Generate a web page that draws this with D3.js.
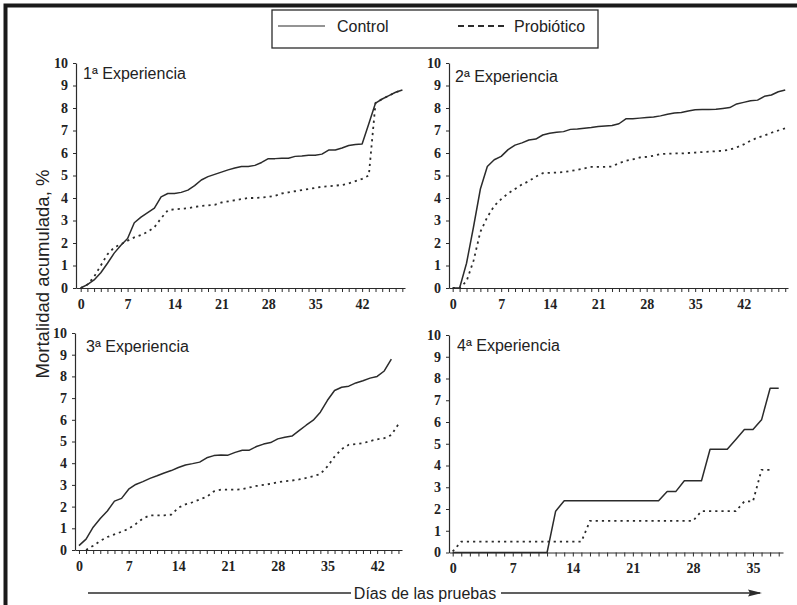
<!DOCTYPE html>
<html>
<head>
<meta charset="utf-8">
<script src="https://cdn.jsdelivr.net/npm/d3@7"></script>
<style>
  body { margin: 0; background: #fff; }
  svg { display: block; }
  .tick text { font-family: "Liberation Serif", "Times New Roman", serif; font-weight: bold; font-size: 14px; fill: #222; }
</style>
</head>
<body>
<svg id="chart" width="797" height="605"></svg>
<script>
// mortalidad acumulada (%) por dia, un valor por dia desde el dia de inicio
var control1 = [0, 0.15, 0.36, 0.68, 1.1, 1.55, 1.9, 2.2, 2.9, 3.15, 3.35, 3.55, 4.05, 4.2, 4.2, 4.25, 4.35, 4.55, 4.8, 4.95, 5.05, 5.15, 5.25, 5.33, 5.4, 5.4, 5.45, 5.58, 5.75, 5.75, 5.77, 5.77, 5.85, 5.87, 5.9, 5.9, 5.95, 6.13, 6.13, 6.22, 6.33, 6.38, 6.4, 7.3, 8.22, 8.4, 8.55, 8.7, 8.8];
var probiotico1 = [0, 0.15, 0.5, 1.0, 1.5, 1.8, 1.95, 2.1, 2.25, 2.35, 2.5, 2.7, 3.1, 3.45, 3.5, 3.52, 3.55, 3.6, 3.65, 3.67, 3.7, 3.8, 3.85, 3.9, 3.95, 4.0, 4.0, 4.02, 4.05, 4.1, 4.2, 4.25, 4.3, 4.35, 4.4, 4.45, 4.5, 4.52, 4.55, 4.58, 4.65, 4.75, 4.85, 5.0, 8.22, 8.4, 8.55, 8.7, 8.8];

var control2 = [0, 0, 1.1, 2.7, 4.4, 5.4, 5.7, 5.85, 6.15, 6.35, 6.45, 6.58, 6.62, 6.8, 6.88, 6.92, 6.95, 7.05, 7.07, 7.1, 7.13, 7.18, 7.2, 7.22, 7.3, 7.52, 7.52, 7.55, 7.58, 7.6, 7.65, 7.72, 7.78, 7.8, 7.87, 7.92, 7.93, 7.93, 7.94, 7.98, 8.02, 8.18, 8.25, 8.32, 8.35, 8.52, 8.58, 8.72, 8.8];
var probiotico2 = [0, 0, 0.3, 1.2, 2.5, 3.15, 3.65, 3.95, 4.2, 4.4, 4.6, 4.75, 4.95, 5.1, 5.12, 5.13, 5.15, 5.2, 5.25, 5.32, 5.38, 5.38, 5.38, 5.4, 5.55, 5.65, 5.72, 5.8, 5.83, 5.88, 5.95, 5.97, 5.98, 5.98, 6.0, 6.02, 6.04, 6.06, 6.08, 6.1, 6.15, 6.25, 6.38, 6.55, 6.68, 6.78, 6.9, 7.0, 7.1];

var control3 = [0.2, 0.5, 1.05, 1.45, 1.8, 2.25, 2.38, 2.8, 3.02, 3.15, 3.3, 3.42, 3.55, 3.66, 3.8, 3.92, 3.98, 4.05, 4.25, 4.35, 4.38, 4.37, 4.5, 4.6, 4.6, 4.77, 4.88, 4.95, 5.12, 5.2, 5.25, 5.5, 5.75, 5.98, 6.35, 6.9, 7.35, 7.5, 7.55, 7.7, 7.8, 7.92, 8.0, 8.25, 8.8];
var probiotico3 = [0, 0.2, 0.42, 0.6, 0.72, 0.84, 0.98, 1.2, 1.45, 1.6, 1.6, 1.6, 1.63, 1.95, 2.1, 2.2, 2.33, 2.45, 2.7, 2.78, 2.78, 2.78, 2.8, 2.88, 2.95, 3.0, 3.05, 3.12, 3.17, 3.2, 3.25, 3.32, 3.4, 3.5, 3.85, 4.3, 4.65, 4.85, 4.88, 4.92, 5.02, 5.1, 5.15, 5.3, 5.8];

var control4 = [0, 0, 0, 0, 0, 0, 0, 0, 0, 0, 0, 0, 1.9, 2.38, 2.38, 2.38, 2.38, 2.38, 2.38, 2.38, 2.38, 2.38, 2.38, 2.38, 2.38, 2.8, 2.8, 3.3, 3.3, 3.3, 4.75, 4.75, 4.75, 5.2, 5.65, 5.65, 6.1, 7.55, 7.55];
var probiotico4 = [0.05, 0.5, 0.5, 0.5, 0.5, 0.5, 0.5, 0.5, 0.5, 0.5, 0.5, 0.5, 0.5, 0.5, 0.5, 0.5, 1.45, 1.45, 1.45, 1.45, 1.45, 1.45, 1.45, 1.45, 1.45, 1.45, 1.45, 1.45, 1.45, 1.9, 1.9, 1.9, 1.9, 1.9, 2.35, 2.35, 3.8, 3.8];

var titles = ["1ª Experiencia", "2ª Experiencia", "3ª Experiencia", "4ª Experiencia"];
var yTicks = [0, 1, 2, 3, 4, 5, 6, 7, 8, 9, 10];
var xLabelTicks = [0, 7, 14, 21, 28, 35, 42];
var seriesNames = ["Control", "Probiótico"];

var panels = [
  { title: titles[0], ctrl: control1, prob: probiotico1, ctrlStart: 0, probStart: 0,
    dom: [-0.7, 48.4], left: 76, right: 405, top: 63, bottom: 288, tx: 83, ty: 79 },
  { title: titles[1], ctrl: control2, prob: probiotico2, ctrlStart: 0, probStart: 0,
    dom: [-0.53, 48.4], left: 449, right: 788, top: 63, bottom: 288, tx: 455, ty: 82 },
  { title: titles[2], ctrl: control3, prob: probiotico3, ctrlStart: 0, probStart: 1,
    dom: [-0.56, 45.5], left: 75, right: 402, top: 333, bottom: 550, tx: 86, ty: 352 },
  { title: titles[3], ctrl: control4, prob: probiotico4, ctrlStart: 0, probStart: 0,
    dom: [-0.43, 38.5], left: 449, right: 783, top: 335, bottom: 552.5, tx: 457, ty: 351 }
];

var ink = "#2b2b2b";
var svg = d3.select("#chart");

// marco exterior
svg.append("path")
  .attr("d", "M5.5,605 L5.5,5.5 L797,5.5")
  .attr("fill", "none")
  .attr("stroke", "#1a1a1a")
  .attr("stroke-width", 4);

panels.forEach(function(p) {
  var x = d3.scaleLinear().domain(p.dom).range([p.left, p.right]);
  var y = d3.scaleLinear().domain([0, 10]).range([p.bottom, p.top]);

  var g = svg.append("g");

  var xAxis = d3.axisBottom(x)
    .tickValues(d3.range(0, Math.floor(p.dom[1]) + 1))
    .tickSize(4)
    .tickSizeOuter(0)
    .tickPadding(7)
    .tickFormat(function(d) { return xLabelTicks.indexOf(d) >= 0 ? d : ""; });

  var yAxis = d3.axisLeft(y)
    .tickValues(yTicks)
    .tickSize(3)
    .tickSizeOuter(0)
    .tickPadding(5);

  var gx = g.append("g").attr("transform", "translate(0," + p.bottom + ")").call(xAxis);
  var gy = g.append("g").attr("transform", "translate(" + p.left + ",0)").call(yAxis);
  [gx, gy].forEach(function(a) {
    a.select(".domain").attr("stroke", ink).attr("stroke-width", 1.2);
    a.selectAll(".tick line").attr("stroke", ink).attr("stroke-width", 1);
    a.selectAll("text").attr("font-family", null).attr("font-size", null);
  });

  var line = d3.line()
    .x(function(d) { return x(d[0]); })
    .y(function(d) { return y(d[1]); });

  var ctrlPts = p.ctrl.map(function(v, i) { return [p.ctrlStart + i, v]; });
  var probPts = p.prob.map(function(v, i) { return [p.probStart + i, v]; });

  g.append("path")
    .attr("d", line(probPts))
    .attr("fill", "none")
    .attr("stroke", ink)
    .attr("stroke-width", 1.8)
    .attr("stroke-dasharray", "2.2,4");

  g.append("path")
    .attr("d", line(ctrlPts))
    .attr("fill", "none")
    .attr("stroke", ink)
    .attr("stroke-width", 1.5)
    .attr("stroke-linejoin", "round");

  g.append("text")
    .attr("x", p.tx)
    .attr("y", p.ty)
    .attr("font-family", "Liberation Sans, Arial, sans-serif")
    .attr("font-size", 16)
    .attr("fill", "#222")
    .text(p.title);
});

// leyenda
var legend = svg.append("g");
legend.append("rect")
  .attr("x", 272).attr("y", 10).attr("width", 326).attr("height", 38)
  .attr("fill", "#fff").attr("stroke", ink).attr("stroke-width", 1.3);
legend.append("line")
  .attr("x1", 278).attr("x2", 325).attr("y1", 26).attr("y2", 26)
  .attr("stroke", ink).attr("stroke-width", 1.2);
legend.append("line")
  .attr("x1", 458).attr("x2", 507).attr("y1", 26).attr("y2", 26)
  .attr("stroke", ink).attr("stroke-width", 2)
  .attr("stroke-dasharray", "6,4");
legend.selectAll("text.lg")
  .data(seriesNames)
  .enter()
  .append("text")
  .attr("class", "lg")
  .attr("x", function(d, i) { return i === 0 ? 337 : 514; })
  .attr("y", 32)
  .attr("font-family", "Liberation Sans, Arial, sans-serif")
  .attr("font-size", 16)
  .attr("fill", "#222")
  .text(function(d) { return d; });

// titulos de ejes
svg.append("text")
  .attr("transform", "translate(49,274) rotate(-90)")
  .attr("text-anchor", "middle")
  .attr("font-family", "Liberation Sans, Arial, sans-serif")
  .attr("font-size", 18.5)
  .attr("fill", "#222")
  .text("Mortalidad acumulada, %");

svg.append("text")
  .attr("x", 425)
  .attr("y", 599)
  .attr("text-anchor", "middle")
  .attr("font-family", "Liberation Sans, Arial, sans-serif")
  .attr("font-size", 16)
  .attr("fill", "#222")
  .text("Días de las pruebas");

svg.append("line")
  .attr("x1", 88).attr("x2", 351).attr("y1", 593).attr("y2", 593)
  .attr("stroke", ink).attr("stroke-width", 1.3);
svg.append("line")
  .attr("x1", 501).attr("x2", 760).attr("y1", 593).attr("y2", 593)
  .attr("stroke", ink).attr("stroke-width", 1.3);
svg.append("path")
  .attr("d", "M762,593 L748,589.5 L750,593 L748,596.5 Z")
  .attr("fill", ink);
</script>
</body>
</html>
